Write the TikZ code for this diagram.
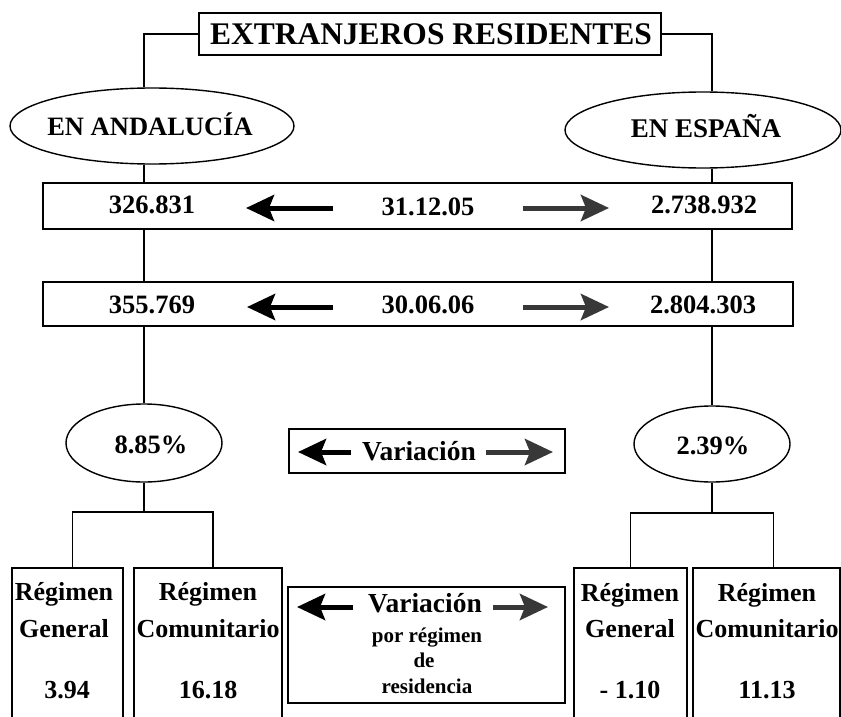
\documentclass[tikz,border=0pt]{standalone}
\usepackage{fontspec}
\setmainfont{Liberation Serif}
\usetikzlibrary{shapes.geometric,arrows.meta}
\begin{document}
\begin{tikzpicture}[x=1pt,y=-1pt,
  conn/.style={line width=1.3pt},
  frame/.style={draw,line width=1.7pt,rectangle,inner sep=0pt},
  openbox/.style={rectangle,inner sep=0pt},
  oval/.style={draw,line width=1.4pt,ellipse,inner sep=0pt},
  txt/.style={inner sep=0pt,anchor=base,font=\bfseries\fontsize{#1}{#1}\selectfont},
  larrow/.style={line width=5pt,-{Stealth[length=28pt,width=26pt,inset=5pt]}},
  rarrow/.style={line width=5pt,black!78,-{Stealth[length=28pt,width=26pt,inset=5pt]}}
]
\useasboundingbox (0,0) rectangle (841,717);
\fill[white] (0,0) rectangle (841,717);

% title
\node[frame,minimum width=462pt,minimum height=42pt] (title) at (430,34) {};
\node[txt=31.5] (ttl) at (431,45) {EXTRANJEROS RESIDENTES};

% ellipses
\node[oval,minimum width=284pt,minimum height=76pt] (lell) at (152,126) {};
\node[txt=26.5] (lellt) at (150,135) {EN ANDALUCÍA};
\node[oval,minimum width=276pt,minimum height=76pt] (rell) at (703,130) {};
\node[txt=27] (rellt) at (706,137) {EN ESPAÑA};

\coordinate (L) at (144,0);
\coordinate (R) at (712,0);

% rows
\node[frame,minimum width=749pt,minimum height=46pt] (row1) at (417.5,206) {};
\node[txt=26.5] (n1l) at (152,213) {326.831};
\node[txt=26.5] (d1) at (428,215) {31.12.05};
\node[txt=26.5] (n1r) at (704,213) {2.738.932};
\node[frame,minimum width=750pt,minimum height=44pt] (row2) at (418,304) {};
\node[txt=26.5] (n2l) at (152,313) {355.769};
\node[txt=26.5] (d2) at (428,313) {30.06.06};
\node[txt=26.5] (n2r) at (703,313) {2.804.303};

\coordinate (a1ls) at (333,208); \coordinate (a1le) at (246,208);
\coordinate (a1rs) at (523,208); \coordinate (a1re) at (609,208);
\coordinate (a2ls) at (333,307); \coordinate (a2le) at (247,307);
\coordinate (a2rs) at (523,307); \coordinate (a2re) at (609,307);
\draw[larrow] (a1ls) -- (a1le);
\draw[rarrow] (a1rs) -- (a1re);
\draw[larrow] (a2ls) -- (a2le);
\draw[rarrow] (a2rs) -- (a2re);

% ovals
\node[oval,minimum width=156pt,minimum height=78pt] (lov) at (144,443) {};
\node[txt=26.5] (lovt) at (151,453) {8.85\%};
\node[oval,minimum width=156pt,minimum height=76pt] (rov) at (712,444) {};
\node[txt=26.5] (rovt) at (713,454) {2.39\%};

% middle variacion
\node[frame,minimum width=276pt,minimum height=44pt] (var) at (427,451) {};
\node[txt=27.5] (vart) at (419,460) {Variación};
\coordinate (vls) at (351,452); \coordinate (vle) at (298,452);
\coordinate (vrs) at (486,452); \coordinate (vre) at (553,452);
\draw[larrow] (vls) -- (vle);
\draw[rarrow] (vrs) -- (vre);

% connectors
\draw[conn] (title.west) -| (L |- lell.north);
\draw[conn] (title.east) -| (R |- rell.north);
\draw[conn] (L |- lell.south) -- (L |- row1.north);
\draw[conn] (L |- row1.south) -- (L |- row2.north);
\draw[conn] (L |- row2.south) -- (lov.north);
\draw[conn] (R |- rell.south) -- (R |- row1.north);
\draw[conn] (R |- row1.south) -- (R |- row2.north);
\draw[conn] (R |- row2.south) -- (rov.north);

% bottom boxes
\node[openbox,minimum width=111pt,minimum height=149pt] (lg) at (67.5,642.5) {};
\node[openbox,minimum width=148pt,minimum height=149pt] (lc) at (208,642.5) {};
\node[openbox,minimum width=113pt,minimum height=149pt] (rg) at (630.5,642.5) {};
\node[openbox,minimum width=147pt,minimum height=149pt] (rc) at (766.5,642.5) {};
\foreach \b in {lg,lc,rg,rc}{
  \draw[line width=1.7pt] (\b.south west) |- (\b.north east) -- (\b.south east);
}

\node[txt=26] (lg1) at (64,600) {Régimen};
\node[txt=26] (lg2) at (64,637) {General};
\node[txt=26] (lg3) at (67,698) {3.94};
\node[txt=26] (lc1) at (208,600) {Régimen};
\node[txt=26] (lc2) at (208,637) {Comunitario};
\node[txt=26] (lc3) at (208,698) {16.18};
\node[txt=26] (rg1) at (630,601) {Régimen};
\node[txt=26] (rg2) at (630,637) {General};
\node[txt=26] (rg3) at (630,698) {- 1.10};
\node[txt=26] (rc1) at (767,601) {Régimen};
\node[txt=26] (rc2) at (767,637) {Comunitario};
\node[txt=26] (rc3) at (767,698) {11.13};

% brackets
\coordinate (lb) at (143,512);
\coordinate (rb) at (712,513);
\draw[conn] (lov.south) -- (lov.south |- lb);
\draw[conn] ([xshift=5pt]lg.north) |- (lb) -| ([xshift=5pt]lc.north);
\draw[conn] (rov.south) -- (rov.south |- rb);
\draw[conn] (rg.north) |- (rb) -| ([xshift=7pt]rc.north);

% bottom variacion
\node[frame,minimum width=277pt,minimum height=116pt] (bvar) at (426.5,645) {};
\node[txt=27.5] (bv1) at (425,612) {Variación};
\node[txt=21] (bv2) at (427,642) {por régimen};
\node[txt=21] (bv3) at (424,667) {de};
\node[txt=21] (bv4) at (427,693) {residencia};
\coordinate (bls) at (353,607); \coordinate (ble) at (297,607);
\coordinate (brs) at (493,607); \coordinate (bre) at (548,607);
\draw[larrow] (bls) -- (ble);
\draw[rarrow] (brs) -- (bre);
\end{tikzpicture}
\end{document}
